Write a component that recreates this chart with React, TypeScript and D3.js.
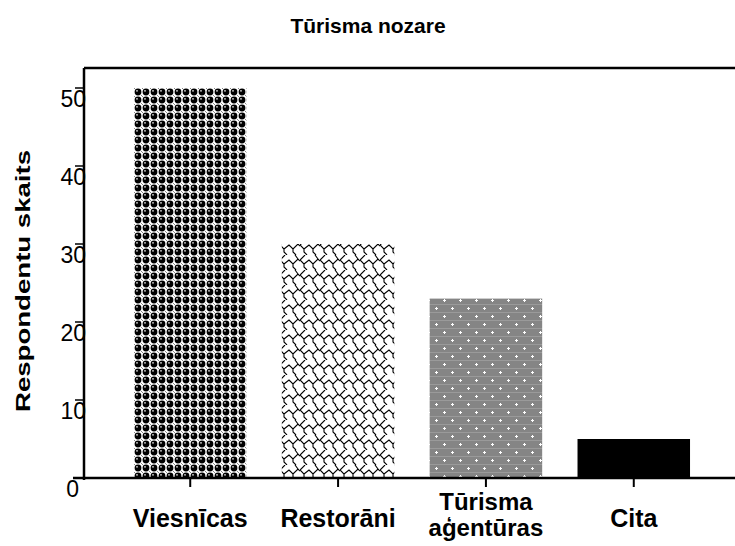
import React from "react";
import * as d3 from "d3";

const categories = ["Viesnīcas", "Restorāni", "Tūrisma aģentūras", "Cita"];
const labelLines = [["Viesnīcas"], ["Restorāni"], ["Tūrisma", "aģentūras"], ["Cita"]];
const counts = [50, 30, 23, 5];
const yTicks = [0, 10, 20, 30, 40, 50];
const fills = ["url(#balls)", "url(#scales)", "url(#dots)", "#000"];

const width = 735;
const height = 546;

const App = () => {
  // plot frame
  const left = 84;
  const top = 68;
  const bottom = 478;

  const x = d3
    .scaleBand<string>()
    .domain(categories)
    .range([left, 740])
    .paddingInner(0.239)
    .paddingOuter(0.338);

  const y = d3.scaleLinear().domain([0, 50]).range([bottom, 88]);

  return (
    <svg
      width={width}
      height={height}
      style={{ position: "absolute", left: 0, top: 0, background: "#fff" }}
      fontFamily="'Liberation Sans', Arial, sans-serif"
    >
      <defs>
        <pattern id="balls" x="134" y="88" width="8" height="8" patternUnits="userSpaceOnUse">
          <rect width="8" height="8" fill="#fff" />
          <rect x="0" y="0" width="1" height="1" fill="#888" />
          <rect x="7" y="7" width="1" height="1" fill="#888" />
          <circle cx={4} cy={4} r={3.4} fill="#000" />
          <circle cx={3} cy={2.8} r={0.9} fill="#ddd" />
        </pattern>
        <pattern id="scales" width="20" height="15" patternUnits="userSpaceOnUse">
          <rect width="20" height="15" fill="#fff" />
          <path
            d="M0,5 L5,0 M0,5 L4,9 L4,12 L7,15 M4,9 L9,5 L13,9 L18,4 L20,6 M13,9 L13,12 L16,15 M18,4 L15,0"
            fill="none"
            stroke="#000"
            strokeWidth={1.1}
          />
        </pattern>
        <pattern id="dots" width="16" height="16" patternUnits="userSpaceOnUse">
          <rect width="16" height="16" fill="#858585" />
          <rect x="0" y="0" width="16" height="1" fill="#9a9a9a" />
          <rect x="0" y="8" width="16" height="1" fill="#9a9a9a" />
          <rect x="3" y="4" width="3" height="1" fill="#fff" />
          <rect x="4" y="3" width="1" height="3" fill="#fff" />
          <rect x="11" y="12" width="3" height="1" fill="#fff" />
          <rect x="12" y="11" width="1" height="3" fill="#fff" />
        </pattern>
      </defs>

      <text x={368} y={33} textAnchor="middle" fontSize={21} fontWeight="bold">
        Tūrisma nozare
      </text>

      <text
        transform={`translate(30,281) rotate(-90)`}
        textAnchor="middle"
        fontSize={21}
        fontWeight="bold"
        textLength={262}
        lengthAdjust="spacingAndGlyphs"
      >
        Respondentu skaits
      </text>

      {/* bars */}
      {categories.map((c, i) => (
        <rect
          key={c}
          x={x(c)}
          y={y(counts[i])}
          width={x.bandwidth()}
          height={bottom - y(counts[i])}
          fill={fills[i]}
        />
      ))}

      {/* frame */}
      <line x1={left} x2={width} y1={top} y2={top} stroke="#000" strokeWidth={2.5} />
      <line x1={left} x2={left} y1={top} y2={bottom + 2} stroke="#000" strokeWidth={2.5} />
      <line x1={73} x2={width} y1={bottom} y2={bottom} stroke="#000" strokeWidth={2.5} />

      {/* y axis */}
      {yTicks.map((t) => (
        <g key={t}>
          <line x1={75} x2={left} y1={y(t)} y2={y(t)} stroke="#000" strokeWidth={1.5} />
          <text x={t === 0 ? 79 : 86} y={y(t) + 19} textAnchor="end" fontSize={23}>
            {t}
          </text>
        </g>
      ))}

      {/* x axis */}
      {categories.map((c, i) => {
        const cx = (x(c) as number) + x.bandwidth() / 2;
        const lines = labelLines[i];
        return (
          <g key={c}>
            <line x1={cx} x2={cx} y1={bottom} y2={487} stroke="#000" strokeWidth={2} />
            {lines.map((l, j) => (
              <text
                key={l}
                x={cx}
                y={lines.length === 1 ? 527 : 510 + j * 26}
                textAnchor="middle"
                fontSize={lines.length === 1 ? 25 : 24}
                fontWeight="bold"
              >
                {l}
              </text>
            ))}
          </g>
        );
      })}
    </svg>
  );
};

export default App;
